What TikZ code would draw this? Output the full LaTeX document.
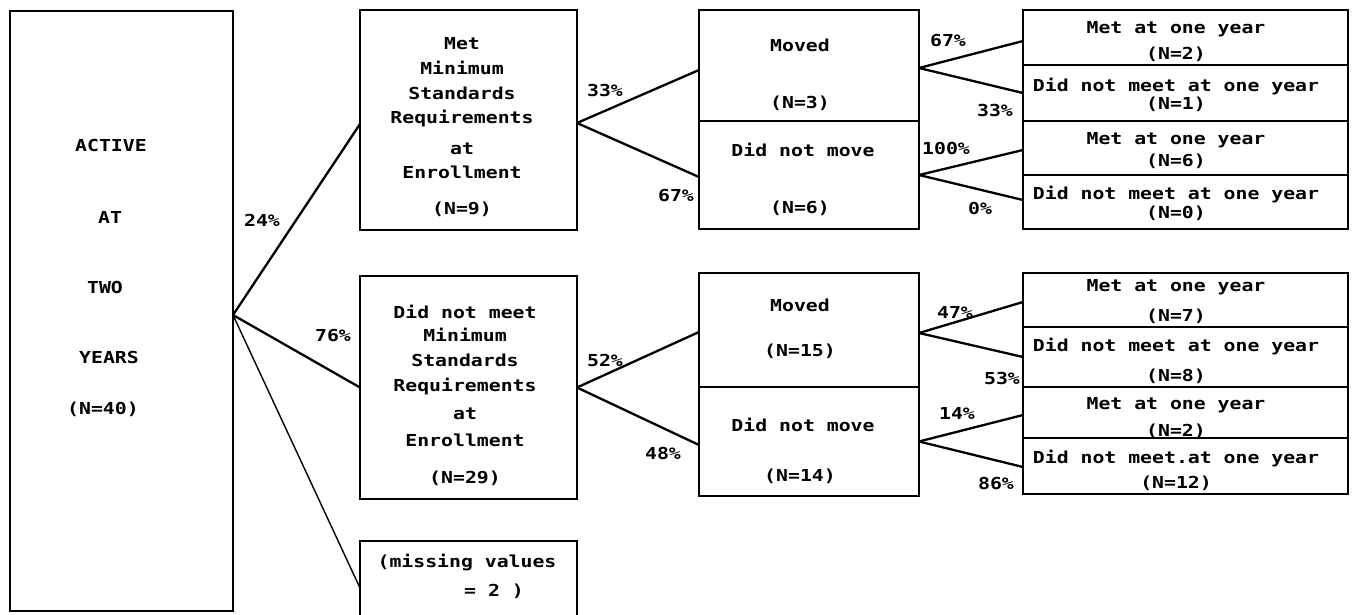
\documentclass[tikz,border=0pt]{standalone}
\usepackage{fontspec}
\newfontfamily\typewriter{DejaVu Sans Mono}[FakeStretch=1.2]
\begin{document}
\begin{tikzpicture}[x=1pt,y=-1pt,
  box/.style={draw, line width=1.2pt, inner sep=0pt, outer sep=0pt},
  hrule/.style={line width=2.6pt},
  link/.style={line width=2.3pt, line cap=round},
  thinlink/.style={line width=1.4pt, line cap=round},
  lbl/.style={font=\typewriter\bfseries\fontsize{16.5}{18}\selectfont,
              inner sep=0pt, text height=12pt, text depth=0pt},
]
\fill[white] (0,0) rectangle (1357,614);
\useasboundingbox (0,0) rectangle (1357,614);

% ---------- boxes ----------
\node[box, minimum width=223pt, minimum height=600pt] (root) at (121.5,311) {};
\node[box, minimum width=217pt, minimum height=220pt] (b1) at (468.5,120) {};
\node[box, minimum width=217pt, minimum height=223pt] (b2) at (468.5,387.5) {};
\node[box, minimum width=217pt, minimum height=99pt]  (mv) at (468.5,590.5) {};

\node[box, minimum width=220pt, minimum height=111pt] (c1) at (809,65.5) {};
\node[box, minimum width=220pt, minimum height=108pt] (c2) at (809,175) {};
\node[box, minimum width=220pt, minimum height=114pt] (c3) at (809,330) {};
\node[box, minimum width=220pt, minimum height=109pt] (c4) at (809,441.5) {};

\node[box, minimum width=325pt, minimum height=55pt] (r1) at (1185.5,37.5) {};
\node[box, minimum width=325pt, minimum height=56pt] (r2) at (1185.5,93) {};
\node[box, minimum width=325pt, minimum height=54pt] (r3) at (1185.5,148) {};
\node[box, minimum width=325pt, minimum height=54pt] (r4) at (1185.5,202) {};
\node[box, minimum width=325pt, minimum height=54pt] (r5) at (1185.5,300) {};
\node[box, minimum width=325pt, minimum height=60pt] (r6) at (1185.5,357) {};
\node[box, minimum width=325pt, minimum height=51pt] (r7) at (1185.5,412.5) {};
\node[box, minimum width=325pt, minimum height=56pt] (r8) at (1185.5,466) {};

% heavier horizontal rules of the typed boxes
\draw[hrule] (root.north west) -- (root.north east);
\draw[hrule] (mv.north west) -- (mv.north east);
\foreach \n in {b1,b2,c1,c2,c3,c4,r1,r2,r3,r4,r5,r6,r7,r8}
  \draw[hrule] (\n.north west) -- (\n.north east) (\n.south west) -- (\n.south east);

% ---------- branch points ----------
\coordinate (root-out) at ([yshift=-4pt]root.east);
\coordinate (b1-out) at ([yshift=-3pt]b1.east);
\coordinate (b2-out) at (b2.east);
\coordinate (c1-out) at ([yshift=-2.5pt]c1.east);
\coordinate (c2-out) at (c2.east);
\coordinate (c3-out) at ([yshift=-3pt]c3.east);
\coordinate (c4-out) at (c4.east);

% ---------- connectors ----------
\draw[link] (root-out) -- ([yshift=-4pt]b1.west);
\draw[link] (root-out) -- (b2.west);
\draw[thinlink] (root-out) -- ([yshift=2.5pt]mv.west);

\draw[link] (b1-out) -- ([yshift=-4.5pt]c1.west);
\draw[link] (b1-out) -- ([yshift=-2pt]c2.west);
\draw[link] (b2-out) -- ([yshift=-2pt]c3.west);
\draw[link] (b2-out) -- ([yshift=-3.5pt]c4.west);

\draw[link] (c1-out) -- ([yshift=-3.5pt]r1.west);
\draw[link] (c1-out) -- (r2.west);
\draw[link] (c2-out) -- ([yshift=-2pt]r3.west);
\draw[link] (c2-out) -- ([yshift=2pt]r4.west);
\draw[link] (c3-out) -- ([yshift=-2pt]r5.west);
\draw[link] (c3-out) -- (r6.west);
\draw[link] (c4-out) -- ([yshift=-2.5pt]r7.west);
\draw[link] (c4-out) -- ([yshift=-1pt]r8.west);

% ---------- box texts ----------
\begin{scope}[every node/.style={lbl}]
\node (root-1) at (111,145) {ACTIVE};
\node (root-2) at (110,217) {AT};
\node (root-3) at (105,287) {TWO};
\node (root-4) at (109,357) {YEARS};
\node (root-5) at (103,408) {(N=40)};

\node (b1-1) at (462,43)  {Met};
\node (b1-2) at (462,68)  {Minimum};
\node (b1-3) at (462,93)  {Standards};
\node (b1-4) at (462,117) {Requirements};
\node (b1-5) at (462,148) {at};
\node (b1-6) at (462,172) {Enrollment};
\node (b1-7) at (462,208) {(N=9)};

\node (b2-1) at (465,312) {Did not meet};
\node (b2-2) at (465,335) {Minimum};
\node (b2-3) at (465,360) {Standards};
\node (b2-4) at (465,385) {Requirements};
\node (b2-5) at (465,413) {at};
\node (b2-6) at (465,440) {Enrollment};
\node (b2-7) at (465,477) {(N=29)};

\node (mv-1) at (467,561) {(missing values};
\node (mv-2) at (494,590) {= 2 )};

\node (c1-1) at (800,45)  {Moved};
\node (c1-2) at (800,102) {(N=3)};
\node (c2-1) at (803,150) {Did not move};
\node (c2-2) at (800,207) {(N=6)};
\node (c3-1) at (800,305) {Moved};
\node (c3-2) at (800,350) {(N=15)};
\node (c4-1) at (803,425) {Did not move};
\node (c4-2) at (800,475) {(N=14)};

\node (r1-1) at (1176,27)  {Met at one year};
\node (r1-2) at (1176,53)  {(N=2)};
\node (r2-1) at (1176,85)  {Did not meet at one year};
\node (r2-2) at (1176,103) {(N=1)};
\node (r3-1) at (1176,138) {Met at one year};
\node (r3-2) at (1176,160) {(N=6)};
\node (r4-1) at (1176,193) {Did not meet at one year};
\node (r4-2) at (1176,212) {(N=0)};
\node (r5-1) at (1176,285) {Met at one year};
\node (r5-2) at (1176,315) {(N=7)};
\node (r6-1) at (1176,345) {Did not meet at one year};
\node (r6-2) at (1176,375) {(N=8)};
\node (r7-1) at (1176,403) {Met at one year};
\node (r7-2) at (1176,430) {(N=2)};
\node (r8-1) at (1176,457) {Did not meet.at one year};
\node (r8-2) at (1176,482) {(N=12)};

% ---------- branch percentages ----------
\node (p-root-1) at (262,220) {24\%};
\node (p-root-2) at (333,335) {76\%};
\node (p-b1-1) at (605,90)  {33\%};
\node (p-b1-2) at (676,195) {67\%};
\node (p-b2-1) at (605,360) {52\%};
\node (p-b2-2) at (663,453) {48\%};
\node (p-c1-1) at (948,40)  {67\%};
\node (p-c1-2) at (995,110) {33\%};
\node (p-c2-1) at (946,148) {100\%};
\node (p-c2-2) at (980,208) {0\%};
\node (p-c3-1) at (955,312) {47\%};
\node (p-c3-2) at (1002,378) {53\%};
\node (p-c4-1) at (957,413) {14\%};
\node (p-c4-2) at (996,483) {86\%};
\end{scope}
\end{tikzpicture}
\end{document}
